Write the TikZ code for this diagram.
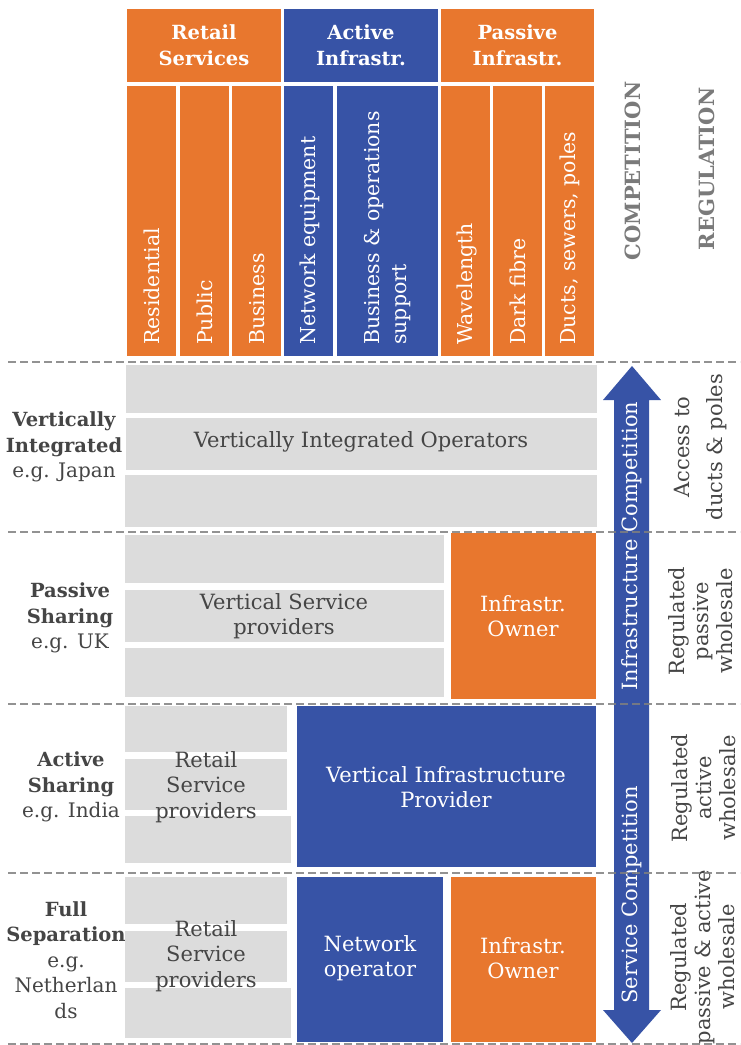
\documentclass[tikz,border=0pt]{standalone}
\usepackage{fontspec}
\setmainfont{DejaVu Serif}
\definecolor{orng}{HTML}{E8772E}
\definecolor{blu}{HTML}{3753A6}
\definecolor{lgray}{HTML}{DCDCDC}
\definecolor{txtgray}{HTML}{454545}
\definecolor{capgray}{HTML}{7A7A7A}
\definecolor{sepgray}{HTML}{7F7F7F}
% a filled cell: name, colour, x1, y1, x2, y2
\newcommand\mkcell[6]{\node[cell,fill=#2,minimum width={(#5)*1pt-(#3)*1pt},minimum height={(#6)*1pt-(#4)*1pt}] (#1) at (#3,#4) {};}
\newcommand\lb[1]{{\fontsize{19.5}{25.5}\selectfont\bfseries #1}}
\begin{document}
\begin{tikzpicture}[x=1pt,y=-1pt,
  cell/.style={inner sep=0pt,outer sep=0pt,anchor=north west,draw=none,rectangle},
  head/.style={font=\fontsize{19.5}{26}\selectfont\bfseries,text=white,align=center,inner sep=0pt},
  collab/.style={font=\fontsize{20.5}{27}\selectfont,text=white,rotate=90,anchor=west,align=left,inner sep=0pt},
  body/.style={font=\fontsize{21}{25.5}\selectfont,text=txtgray,align=center,inner sep=0pt},
  wbody/.style={body,text=white},
  side/.style={font=\fontsize{20}{25.5}\selectfont,text=txtgray,align=center,inner sep=0pt},
  reg/.style={font=\fontsize{21}{24}\selectfont,text=txtgray,align=center,rotate=90,inner sep=0pt},
  axis/.style={font=\fontsize{21}{25}\selectfont\bfseries,text=capgray,rotate=90,inner sep=0pt},
  sep/.style={draw=sepgray,draw opacity=0.85,line width=2.6pt,dash pattern=on 8pt off 4pt}]
\useasboundingbox[fill=white] (0,0) rectangle (740,1045);

% column group headers
\mkcell{hRet}{orng}{127}{9}{281}{82}
\mkcell{hAct}{blu}{284}{9}{438}{82}
\mkcell{hPas}{orng}{441}{9}{594}{82}
\node[head] (tRet) at (hRet.center) {Retail\\Services};
\node[head] (tAct) at (hAct.center) {Active\\Infrastr.};
\node[head] (tPas) at (hPas.center) {Passive\\Infrastr.};

% value chain columns
\mkcell{c1}{orng}{127}{86}{176}{356}
\mkcell{c2}{orng}{180}{86}{229}{356}
\mkcell{c3}{orng}{232}{86}{281}{356}
\mkcell{c4}{blu}{284}{86}{333}{356}
\mkcell{c5}{blu}{337}{86}{438}{356}
\mkcell{c6}{orng}{441}{86}{490}{356}
\mkcell{c7}{orng}{493}{86}{542}{356}
\mkcell{c8}{orng}{545}{86}{594}{356}
\node[collab] (l1) at (152,345) {Residential};
\node[collab] (l2) at (205,345) {Public};
\node[collab] (l3) at (257,345) {Business};
\node[collab] (l4) at (310,345) {Network equipment};
\node[collab] (l5) at (388,345) {Business \& operations\\support};
\node[collab] (l6) at (467,345) {Wavelength};
\node[collab] (l7) at (518,345) {Dark fibre};
\node[collab] (l8) at (570,345) {Ducts, sewers, poles};

% axis titles
\node[axis] (comp) at (633,171) {COMPETITION};
\node[axis] (regu) at (707,169) {REGULATION};

% row 1: vertically integrated
\mkcell{a1}{lgray}{126}{365}{597}{413}
\mkcell{a2}{lgray}{126}{418}{597}{470}
\mkcell{a3}{lgray}{125}{475}{597}{527}
\node[body] (vio) at (361,442) {Vertically Integrated Operators};
\node[side] (s1) at (64,447) {\lb{Vertically}\\\lb{Integrated}\\e.g. Japan};

% row 2: passive sharing
\mkcell{b1}{lgray}{125}{535}{444}{583}
\mkcell{b2}{lgray}{125}{590}{444}{642}
\mkcell{b3}{lgray}{125}{648}{444}{697}
\mkcell{b4}{orng}{451}{533}{596}{699}
\node[body] (vsp) at (284,616) {Vertical Service\\providers};
\node[wbody] (io1) at (523,616) {Infrastr.\\Owner};
\node[side] (s2) at (70,618) {\lb{Passive}\\\lb{Sharing}\\e.g. UK};

% row 3: active sharing
\mkcell{d1}{lgray}{125}{706}{287}{752}
\mkcell{d2}{lgray}{125}{759}{287}{810}
\mkcell{d3}{lgray}{125}{816}{291}{863}
\mkcell{d4}{blu}{297}{706}{596}{867}
\node[body] (rsp1) at (206,787) {Retail\\Service\\providers};
\node[wbody] (vip) at (446,787) {Vertical Infrastructure\\Provider};
\node[side] (s3) at (71,787) {\lb{Active}\\\lb{Sharing}\\e.g. India};

% row 4: full separation
\mkcell{e1}{lgray}{125}{877}{287}{924}
\mkcell{e2}{lgray}{125}{931}{287}{982}
\mkcell{e3}{lgray}{125}{988}{291}{1038}
\mkcell{e4}{blu}{297}{877}{443}{1042}
\mkcell{e5}{orng}{451}{877}{596}{1042}
\node[body] (rsp2) at (206,956) {Retail\\Service\\providers};
\node[wbody] (nop) at (370,958) {Network\\operator};
\node[wbody] (io2) at (523,958) {Infrastr.\\Owner};
\node[side] (s4) at (66,960) {\lb{Full}\\\lb{Separation}\\e.g.\\Netherlan\\ds};

% competition arrow
\fill[blu] (632,366) -- (661,400) -- (649,400) -- (649,1010) -- (661,1010)
  -- (632,1043) -- (603,1010) -- (614,1010) -- (614,400) -- (603,400) -- cycle;
\node[wbody,rotate=90] (ic) at (632,546) {Infrastructure Competition};
\node[wbody,rotate=90] (sc) at (632,895) {Service Competition};

% regulation per model
\node[reg] (r1) at (701,447) {Access to\\[9pt]ducts \& poles};
\node[reg] (r2) at (701,621) {Regulated\\passive\\wholesale};
\node[reg] (r3) at (704,788) {Regulated\\active\\wholesale};
\node[reg] (r4) at (703,957) {Regulated\\passive \& active\\wholesale};

% dashed separators between models
\draw[sep] (8,362) -- (740,362);
\draw[sep] (8,532) -- (740,532);
\draw[sep] (8,704) -- (740,704);
\draw[sep] (8,873) -- (740,873);
\draw[sep] (8,1044) -- (740,1044);
\end{tikzpicture}
\end{document}
